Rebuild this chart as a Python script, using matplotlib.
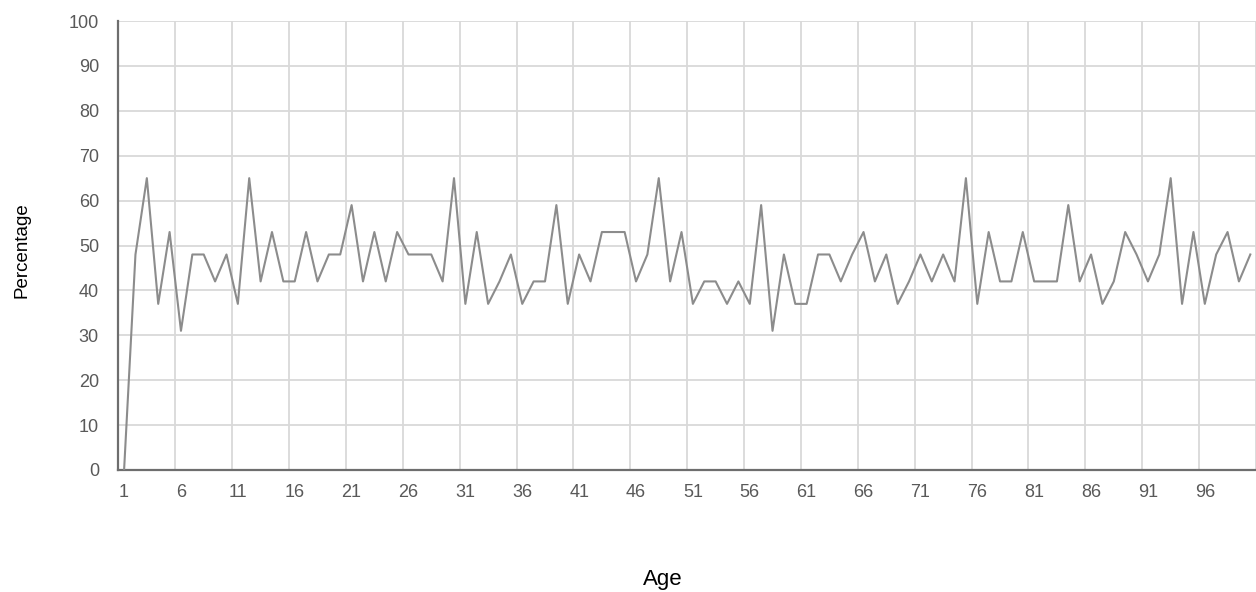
import matplotlib
matplotlib.use("Agg")
import matplotlib.pyplot as plt
import numpy as np

plt.rcParams['font.family'] = ['Liberation Sans', 'DejaVu Sans']

# ages 1..100 and the percentage
ages = list(range(1, 101))
percentage = [
    0, 48, 65, 37, 53, 31, 48, 48, 42, 48,
    37, 65, 42, 53, 42, 42, 53, 42, 48, 48,
    59, 42, 53, 42, 53, 48, 48, 48, 42, 65,
    37, 53, 37, 42, 48, 37, 42, 42, 59, 37,
    48, 42, 53, 53, 53, 42, 48, 65, 42, 53,
    37, 42, 42, 37, 42, 37, 59, 31, 48, 37,
    37, 48, 48, 42, 48, 53, 42, 48, 37, 42,
    48, 42, 48, 42, 65, 37, 53, 42, 42, 53,
    42, 42, 42, 59, 42, 48, 37, 42, 53, 48,
    42, 48, 65, 37, 53, 37, 48, 53, 42, 48,
]
tick_ages = list(range(1, 97, 5))
y_ticks = list(range(0, 101, 10))

fig = plt.figure(figsize=(12.56, 5.92), dpi=100)
ax = fig.add_axes([118.4 / 1256, 1 - 470 / 592, 1 - 118.4 / 1256, (470 - 21) / 592])

ax.plot(ages, percentage, color="#8c8c8c", linewidth=1.5, zorder=3)

ax.set_xlim(0.5, 0.5 + (1256 - 118.4) / 11.47)
ax.set_ylim(0, 100)

ax.set_xticks(tick_ages)
ax.set_xticklabels([str(a) for a in tick_ages])
ax.set_xticks(np.arange(5.5, 101, 5), minor=True)
ax.set_yticks(y_ticks)

ax.grid(True, which="minor", axis="x", color="#d9d9d9", linewidth=1.3)
ax.grid(True, which="major", axis="y", color="#d9d9d9", linewidth=1.3)
ax.set_axisbelow(True)

ax.tick_params(axis="both", which="both", length=0, labelsize=13, labelcolor="#595959")
ax.tick_params(axis="y", pad=14)
ax.tick_params(axis="x", pad=10)

for s in ["top", "right"]:
    ax.spines[s].set_visible(False)
for s in ["left", "bottom"]:
    ax.spines[s].set_color("#6e6e6e")
    ax.spines[s].set_linewidth(1.6)

fig.text(662.5 / 1256, 1 - 580 / 592, "Age", ha="center", va="center", fontsize=16)
fig.text(22 / 1256, 1 - 250 / 592, "Percentage", ha="center", va="center",
         rotation=90, fontsize=13.5)

fig.savefig("out.png", dpi=100)
